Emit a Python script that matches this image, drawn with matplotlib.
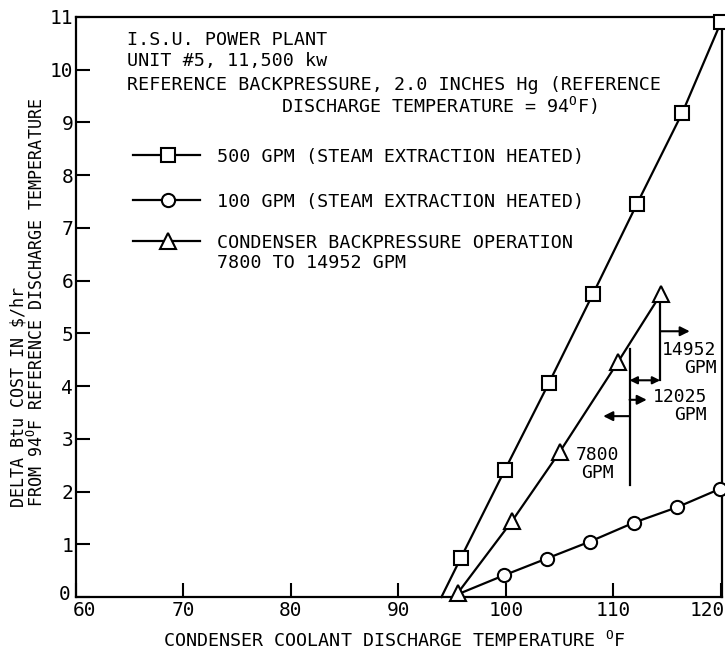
import matplotlib
matplotlib.use("Agg")
import matplotlib.pyplot as plt
import matplotlib.transforms as mtransforms

plt.rcParams['font.family'] = ['DejaVu Sans Mono', 'DejaVu Sans']
plt.rcParams['mathtext.fontset'] = 'custom'
plt.rcParams['mathtext.rm'] = 'DejaVu Sans Mono'

# ---- data ----
temp_500 = [94.0, 95.8, 99.9, 104.0, 108.1, 112.2, 116.4, 120.0]
cost_500 = [0.0, 0.74, 2.41, 4.06, 5.75, 7.46, 9.18, 10.9]

temp_100 = [95.5, 99.8, 103.8, 107.8, 111.9, 115.9, 119.9]
cost_100 = [0.05, 0.41, 0.73, 1.05, 1.41, 1.70, 2.05]

temp_bp = [95.5, 100.6, 105.0, 110.4, 114.4]
cost_bp = [0.07, 1.45, 2.75, 4.45, 5.74]

# flow-range guide lines for backpressure operation
guide_7800_x = [111.5, 111.5]
guide_7800_y = [4.70, 2.13]
guide_14952_x = [114.35, 114.35]
guide_14952_y = [5.74, 4.11]

x_ticks = [60, 70, 80, 90, 100, 110, 120]
y_ticks = list(range(0, 12))

W, H = 725, 658
fig = plt.figure(figsize=(W / 100, H / 100), dpi=100)
ax = fig.add_axes([76 / W, (H - 597) / H, 646 / W, 580 / H])
ax.set_xlim(60, 120.1)
ax.set_ylim(0, 11)

lw = 1.6
mk = dict(markerfacecolor='white', markeredgecolor='black', markeredgewidth=1.5)

ax.plot(temp_500, cost_500, color='black', lw=lw, zorder=3, clip_on=False)
ax.plot(temp_500[1:], cost_500[1:], ls='none', marker='s', markersize=10, zorder=4,
        clip_on=False, **mk)

ax.plot(temp_100, cost_100, color='black', lw=lw, zorder=3, clip_on=False)
ax.plot(temp_100[1:], cost_100[1:], ls='none', marker='o', markersize=9.5, zorder=4,
        clip_on=False, **mk)

ax.plot(temp_bp, cost_bp, color='black', lw=lw, marker='^', markersize=11, zorder=5,
        clip_on=False, **mk)

ax.plot(guide_7800_x, guide_7800_y, color='black', lw=lw, zorder=2)
ax.plot(guide_14952_x, guide_14952_y, color='black', lw=lw, zorder=2)

arrow = dict(arrowstyle='-|>', lw=1.5, color='black', mutation_scale=14, shrinkA=0, shrinkB=0)
ax.annotate('', xy=(117.1, 5.04), xytext=(114.35, 5.04), arrowprops=arrow)
ax.annotate('', xy=(113.1, 3.74), xytext=(111.5, 3.74), arrowprops=arrow)
ax.annotate('', xy=(109.05, 3.43), xytext=(111.5, 3.43), arrowprops=arrow)
ax.annotate('', xy=(114.35, 4.11), xytext=(111.5, 4.11),
            arrowprops=dict(arrowstyle='<|-|>', lw=1.5, color='black', mutation_scale=11,
                            shrinkA=0, shrinkB=0))

tf = dict(fontsize=13, color='black')
ax.text(119.6, 4.52, '14952\nGPM', ha='right', va='center', multialignment='right',
        linespacing=1.0, **tf)
ax.text(118.7, 3.62, '12025\nGPM', ha='right', va='center', multialignment='right',
        linespacing=1.0, **tf)
ax.text(108.5, 2.52, '7800\nGPM', ha='center', va='center', multialignment='center',
        linespacing=1.0, **tf)

ax.set_xticks(x_ticks)
ax.set_yticks(y_ticks)
ax.tick_params(direction='in', length=10, width=1.5, labelsize=14, pad=3)
ax.tick_params(axis='y', pad=2)
for s in ax.spines.values():
    s.set_linewidth(1.6)

# nudge end labels inward like the reference
xticks_objs = ax.xaxis.get_major_ticks()
for idx, dx in ((0, 9), (len(xticks_objs) - 1, -14)):
    lab = xticks_objs[idx].label1
    lab.set_transform(lab.get_transform() +
                      mtransforms.ScaledTranslation(dx / 100, 0, fig.dpi_scale_trans))
ytick0 = ax.yaxis.get_major_ticks()[0].label1
ytick0.set_transform(ytick0.get_transform() +
                     mtransforms.ScaledTranslation(-3 / 100, 4 / 100, fig.dpi_scale_trans))


def fx(px):
    return px / W


def fy(py):
    return 1 - py / H


fs = 13.2
fig.text(fx(127), fy(45), 'I.S.U. POWER PLANT', fontsize=fs, va='baseline')
fig.text(fx(127), fy(66), 'UNIT #5, 11,500 kw', fontsize=fs, va='baseline')
fig.text(fx(127), fy(90), 'REFERENCE BACKPRESSURE, 2.0 INCHES Hg (REFERENCE', fontsize=fs, va='baseline')
fig.text(fx(281), fy(113), r'DISCHARGE TEMPERATURE = 94$^{\mathregular{O}}$F)', fontsize=fs, va='baseline')

legend_rows = [
    ('s', 10, 155, [(162, '500 GPM (STEAM EXTRACTION HEATED)')]),
    ('o', 9.5, 200, [(207, '100 GPM (STEAM EXTRACTION HEATED)')]),
    ('^', 11, 241, [(248, 'CONDENSER BACKPRESSURE OPERATION'), (268, '7800 TO 14952 GPM')]),
]
for m, ms, ly, lines in legend_rows:
    fig.add_artist(plt.Line2D([fx(133), fx(200)], [fy(ly), fy(ly)], color='black', lw=lw))
    fig.add_artist(plt.Line2D([fx(168)], [fy(ly)], marker=m, markersize=ms, ls='none', **mk))
    for ty, label in lines:
        fig.text(fx(217), fy(ty), label, fontsize=fs, va='baseline')

fig.text(fx(163), fy(647), r'CONDENSER COOLANT DISCHARGE TEMPERATURE $^{\mathregular{O}}$F',
         fontsize=fs, va='baseline')
fy_s = 12.0
fig.text(fx(24), fy(507), r'DELTA Btu COST IN $/hr', fontsize=fy_s, rotation=90,
         rotation_mode='anchor', ha='left', va='baseline')
fig.text(fx(43), fy(507), r'FROM 94$^{\mathregular{O}}$F REFERENCE DISCHARGE TEMPERATURE',
         fontsize=fy_s, rotation=90, rotation_mode='anchor', ha='left', va='baseline')

fig.savefig('out.png', dpi=100)
